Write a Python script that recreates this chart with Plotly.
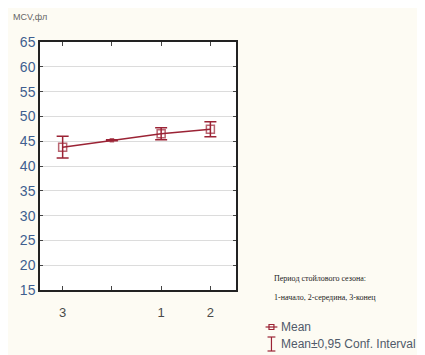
import plotly.graph_objects as go

# Data
categories = ["3", "", "1", "2"]
cat_pos = [0, 1, 2, 3]
means = [43.8, 45.2, 46.5, 47.4]
ci_half = [2.2, 0.1, 1.2, 1.5]
y_ticks = [15, 20, 25, 30, 35, 40, 45, 50, 55, 60, 65]

red = "#9b2335"
OFF = 8  # page body margin
W, H = 425 - OFF, 355 - OFF
L, R, T, B = 37 - OFF, W - (236 - OFF), 42 - OFF, H - (290 - OFF)

fig = go.Figure()
fig.add_trace(go.Scatter(
    x=cat_pos, y=means, mode="lines+markers",
    line=dict(color=red, width=1.5),
    marker=dict(symbol=["square-open", "square", "square-open", "square-open"],
                size=[8, 3, 8, 8], color=red, line=dict(color=red, width=1.5)),
    error_y=dict(type="data", array=ci_half, visible=True, color=red,
                 thickness=1.5, width=6),
    showlegend=False, hoverinfo="skip"))

fig.update_layout(
    width=W, height=H,
    margin=dict(l=L, r=R, t=T, b=B),
    paper_bgcolor="#fdfbf3", plot_bgcolor="white",
    showlegend=False,
    xaxis=dict(range=[-0.46, 3.52], tickvals=cat_pos, ticktext=categories,
               showgrid=False, zeroline=False, showline=True, linecolor="#222",
               linewidth=1.5, mirror="ticks", ticks="inside", ticklen=4,
               tickcolor="#444", ticklabelstandoff=10,
               tickfont=dict(family="Liberation Sans Narrow, Arial Narrow, sans-serif",
                             size=13, color="#4a4a4a")),
    yaxis=dict(range=[15, 65], tickvals=y_ticks, showgrid=True,
               gridcolor="#dcdcdc", gridwidth=1, zeroline=False, showline=True,
               linecolor="#222", linewidth=1.5, mirror="ticks", ticks="inside",
               ticklen=3, tickcolor="#444",
               tickfont=dict(family="Liberation Sans Narrow, Arial Narrow, sans-serif",
                             size=14, color="#3f5f8f")),
)

# viewport pixel coords -> paper coords
def px(x):
    return (x - OFF - L) / (W - L - R)

def py(y):
    return (H - B - (y - OFF)) / (H - T - B)

fig.add_annotation(x=px(8), y=py(17), xref="paper", yref="paper", text="MCV,фл",
                   showarrow=False, xanchor="left", yanchor="middle",
                   font=dict(family="Liberation Sans, sans-serif", size=9, color="#666"))

fig.add_annotation(x=px(273), y=py(278), xref="paper", yref="paper",
                   text="Период стойлового сезона:", showarrow=False,
                   xanchor="left", yanchor="middle",
                   font=dict(family="Liberation Serif, serif", size=8, color="#222"))
fig.add_annotation(x=px(273), y=py(297), xref="paper", yref="paper",
                   text="1-начало, 2-середина, 3-конец", showarrow=False,
                   xanchor="left", yanchor="middle",
                   font=dict(family="Liberation Serif, serif", size=8, color="#222"))

# legend items
fig.add_annotation(x=px(280), y=py(327), xref="paper", yref="paper",
                   text="Mean", showarrow=False, xanchor="left", yanchor="middle",
                   font=dict(family="Liberation Sans, sans-serif", size=12, color="#505a6a"))
fig.add_annotation(x=px(280), y=py(344), xref="paper", yref="paper",
                   text="Mean±0,95 Conf. Interval", showarrow=False,
                   xanchor="left", yanchor="middle",
                   font=dict(family="Liberation Sans, sans-serif", size=12, color="#505a6a"))
# Mean icon
fig.add_shape(type="line", xref="paper", yref="paper", x0=px(266), x1=px(278),
              y0=py(327), y1=py(327), line=dict(color=red, width=1.2))
fig.add_shape(type="rect", xref="paper", yref="paper", x0=px(269.5), x1=px(274.5),
              y0=py(329.5), y1=py(324.5), line=dict(color=red, width=1.2))
# CI icon
fig.add_shape(type="line", xref="paper", yref="paper", x0=px(272), x1=px(272),
              y0=py(337), y1=py(351), line=dict(color=red, width=1.2))
fig.add_shape(type="line", xref="paper", yref="paper", x0=px(268), x1=px(276),
              y0=py(337), y1=py(337), line=dict(color=red, width=1.2))
fig.add_shape(type="line", xref="paper", yref="paper", x0=px(268), x1=px(276),
              y0=py(351), y1=py(351), line=dict(color=red, width=1.2))

fig.write_html("out.html")
